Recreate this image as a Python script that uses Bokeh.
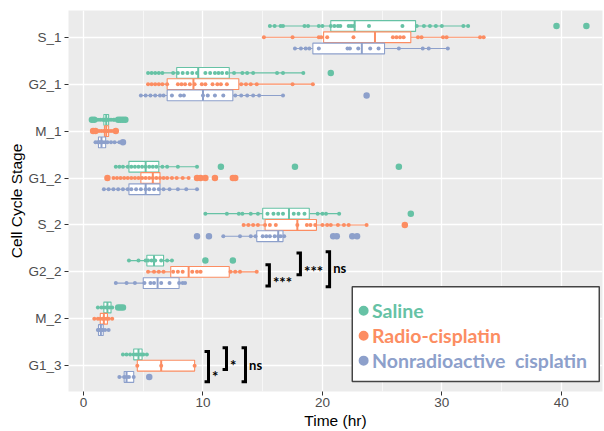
import numpy as np
from bokeh.plotting import figure
from bokeh.models import ColumnDataSource, FixedTicker, SingleIntervalTicker, Range1d
from bokeh.embed import file_html
from bokeh.resources import INLINE
from bokeh.core.properties import value

# ---------------- data ----------------
categories = ["S_1", "G2_1", "M_1", "G1_2", "S_2", "G2_2", "M_2", "G1_3"]
groups = ["Saline", "Radio-cisplatin", "Nonradioactive cisplatin"]
colors = ["#66C2A5", "#FC8D62", "#8DA0CB"]
x_ticks = [0, 10, 20, 30, 40]

# box statistics (whisker low, Q1, median, Q3, whisker high), in category order
saline_lo  = [15.6, 5.4, 1.2, 2.7, 10.2, 3.8, 1.2, 3.3]
saline_q1  = [20.7, 7.8, 1.7, 3.8, 15.0, 5.3, 1.7, 4.2]
saline_med = [22.7, 9.6, 1.9, 5.2, 17.2, 5.9, 2.0, 4.6]
saline_q3  = [27.8, 12.2, 2.1, 6.3, 18.9, 6.7, 2.3, 4.9]
saline_hi  = [32.2, 18.4, 2.6, 9.5, 21.4, 7.4, 2.4, 5.3]

radio_lo  = [15.1, 5.4, 1.3, 2.5, 13.4, 5.4, 0.9, 4.5]
radio_q1  = [20.1, 7.0, 1.75, 4.8, 15.2, 7.3, 1.4, 4.5]
radio_med = [24.4, 9.2, 1.9, 5.8, 17.9, 8.8, 1.7, 6.5]
radio_q3  = [27.4, 13.0, 2.1, 6.4, 19.5, 12.2, 2.0, 9.3]
radio_hi  = [33.5, 19.2, 2.5, 8.8, 23.7, 14.5, 2.4, 9.3]

nonrad_lo  = [17.7, 4.8, 1.0, 1.7, 11.7, 2.7, 1.2, 3.0]
nonrad_q1  = [19.2, 7.0, 1.25, 3.8, 14.5, 5.0, 1.25, 3.4]
nonrad_med = [23.3, 10.0, 1.5, 5.2, 16.3, 6.2, 1.45, 3.6]
nonrad_q3  = [25.2, 12.5, 1.85, 6.4, 16.7, 8.0, 1.65, 4.2]
nonrad_hi  = [30.5, 16.8, 3.0, 9.5, 16.8, 8.5, 2.1, 4.2]

# individual observations (hr), one list per category
saline_points = [
    [15.6, 16.0, 16.5, 16.7, 18.5, 18.8, 19.7, 20.0, 20.7, 21.0, 21.3, 21.5, 22.2, 22.4, 22.6, 23.9, 26.7, 27.9, 28.5, 29.0, 29.5, 30.0, 31.8, 32.2],
    [5.4, 5.7, 6.0, 6.3, 6.6, 7.5, 7.9, 8.3, 8.7, 9.1, 9.5, 10.2, 10.6, 11.0, 11.3, 11.6, 12.0, 12.6, 13.3, 13.7, 14.2, 16.2, 16.7, 18.4],
    [1.2, 1.4, 1.6, 1.7, 1.8, 1.9, 2.0, 2.1, 2.3, 2.5, 2.6],
    [2.7, 3.0, 3.3, 3.7, 4.0, 4.3, 4.6, 4.9, 5.2, 5.5, 5.8, 6.1, 6.6, 7.0, 7.9, 9.5],
    [10.2, 12.0, 13.0, 13.3, 14.0, 14.6, 15.4, 15.9, 16.3, 16.7, 17.6, 18.0, 18.5, 19.6, 20.0, 20.3, 21.4],
    [3.8, 4.6, 5.2, 5.4, 5.7, 6.0, 6.5, 7.0, 7.4],
    [1.2, 1.5, 1.7, 1.9, 2.0, 2.2, 2.4],
    [3.3, 3.6, 3.9, 4.2, 4.4, 4.6, 4.8, 5.0, 5.3],
]
saline_outliers = [[39.6, 42.1], [20.7], [0.7, 0.9, 2.9, 3.1, 3.3, 3.5], [11.5, 17.7, 26.4],
                   [27.4], [10.2, 12.5], [2.9, 3.1, 3.3], []]

radio_points = [
    [15.1, 17.5, 19.7, 19.9, 20.4, 22.6, 25.9, 26.2, 26.5, 26.8, 28.0, 28.3, 30.1, 30.4, 33.2, 33.5],
    [5.4, 5.7, 6.0, 6.3, 6.6, 7.0, 7.9, 8.2, 8.5, 8.9, 9.3, 9.9, 10.2, 10.8, 11.2, 11.5, 12.0, 13.2, 13.6, 14.0, 14.5, 17.5, 19.2],
    [1.3, 1.5, 1.7, 1.8, 1.9, 2.0, 2.1, 2.3, 2.5],
    [2.5, 2.8, 3.1, 3.4, 3.7, 4.0, 4.3, 4.6, 4.9, 5.2, 5.5, 5.8, 6.1, 6.4, 6.7, 7.0, 7.4, 7.8, 8.3, 8.8],
    [13.4, 13.8, 14.2, 14.6, 15.2, 15.6, 16.1, 17.9, 18.7, 19.0, 19.4, 20.0, 20.4, 20.7, 21.3, 21.8, 22.2, 23.7],
    [5.4, 5.9, 6.3, 6.7, 7.5, 7.9, 8.3, 9.1, 9.5, 9.8, 12.3, 12.7, 13.1, 14.5],
    [0.9, 1.2, 1.4, 1.6, 1.7, 1.9, 2.1, 2.4],
    [4.5, 6.5, 9.3],
]
radio_outliers = [[], [], [0.8, 1.0, 2.7], [2.0, 9.5, 9.8, 10.2, 11.0, 12.5, 12.7],
                  [26.9], [], [], []]

nonrad_points = [
    [17.7, 18.2, 18.6, 18.9, 19.7, 22.1, 22.3, 23.0, 24.0, 24.7, 26.4, 28.4, 28.9, 30.5],
    [4.8, 5.2, 5.6, 6.0, 6.4, 6.7, 7.4, 8.1, 8.4, 10.0, 10.4, 11.0, 11.7, 12.7, 13.2, 13.7, 14.2, 14.7, 16.7],
    [1.0, 1.2, 1.3, 1.4, 1.5, 1.6, 1.8, 2.0, 2.3, 2.6, 3.0],
    [1.7, 2.1, 2.5, 2.9, 3.3, 3.7, 4.0, 4.4, 4.8, 5.2, 5.5, 5.9, 6.3, 6.7, 7.2, 7.9, 8.6, 9.5],
    [11.7, 13.1, 14.0, 14.4, 15.0, 15.3, 15.6, 16.0, 16.3, 16.5, 16.8],
    [2.7, 3.6, 4.3, 5.1, 5.6, 5.9, 6.5, 7.2, 8.0, 8.3, 8.5],
    [1.2, 1.3, 1.4, 1.5, 1.6, 1.8, 2.1],
    [3.0, 3.4, 3.6, 3.8, 4.2],
]
nonrad_outliers = [[], [23.7], [3.3], [], [9.5, 10.5, 20.9, 21.2, 22.5, 22.9], [], [], [5.5]]

# significance annotations: (stage, bracket x in hr, label)
sig_stage = ["G2_2", "G2_2", "G2_2", "G1_3", "G1_3", "G1_3"]
sig_x = [15.56, 18.16, 20.6, 10.46, 11.97, 13.56]
sig_label = ["***", "***", "ns", "*", "*", "ns"]
legend_labels = ["Saline", "Radio-cisplatin", "Nonradioactive\u00a0 cisplatin"]

# ---------------- layout constants ----------------
n = len(categories)
cat_y = {c: n - i for i, c in enumerate(categories)}
offsets = [0.24, 0.0, -0.24]
box_h = 0.23
# bracket spans relative to the stage centre
sig_dy0 = [-0.30, -0.06, -0.32, -0.34, -0.08, -0.34]
sig_dy1 = [0.15, 0.40, 0.43, 0.30, 0.385, 0.385]
sig_ty = [-0.22, 0.02, 0.085, -0.22, 0.02, 0.02]
sig_size = ["15px", "15px", "13px", "15px", "15px", "13px"]

stats = [
    (saline_lo, saline_q1, saline_med, saline_q3, saline_hi, saline_points, saline_outliers),
    (radio_lo, radio_q1, radio_med, radio_q3, radio_hi, radio_points, radio_outliers),
    (nonrad_lo, nonrad_q1, nonrad_med, nonrad_q3, nonrad_hi, nonrad_points, nonrad_outliers),
]

p = figure(width=604, height=431, output_backend="svg", toolbar_location=None,
           x_range=Range1d(-1.26, 43.45), y_range=Range1d(0.45, 8.57),
           min_border_left=68, min_border_right=2, min_border_top=10, min_border_bottom=39)
p.background_fill_color = "#EBEBEB"
p.border_fill_color = "white"
p.outline_line_color = None

for gi, (lo, q1, med, q3, hi, pts, outs) in enumerate(stats):
    col = colors[gi]
    ys = [cat_y[c] + offsets[gi] for c in categories]
    src = ColumnDataSource(dict(y=ys, lo=lo, q1=q1, med=med, q3=q3, hi=hi,
                                ylo=[y - box_h / 2 for y in ys], yhi=[y + box_h / 2 for y in ys]))
    p.segment(x0="lo", y0="y", x1="q1", y1="y", source=src, line_color=col, line_width=1.1)
    p.segment(x0="q3", y0="y", x1="hi", y1="y", source=src, line_color=col, line_width=1.1)
    p.hbar(y="y", left="q1", right="q3", height=box_h, source=src,
           fill_color="white", line_color=col, line_width=1.1)
    p.segment(x0="med", y0="ylo", x1="med", y1="yhi", source=src, line_color=col, line_width=2)
    ox, oy = [], []
    for ci, c in enumerate(categories):
        ox += outs[ci]
        oy += [ys[ci]] * len(outs[ci])
    p.scatter(x=ox, y=oy, size=6.5, marker="circle", fill_color=col, line_color=None)
    px, py = [], []
    for ci, c in enumerate(categories):
        px += pts[ci]
        py += [ys[ci]] * len(pts[ci])
    p.scatter(x=px, y=py, size=4, marker="circle", fill_color=col, line_color=None)

# significance brackets
tick_len = 0.33
bx, by = [], []
for i, st in enumerate(sig_stage):
    yc = cat_y[st]
    x = sig_x[i]
    y0 = yc + sig_dy0[i]
    y1 = yc + sig_dy1[i]
    bx.append([x - tick_len, x, x, x - tick_len])
    by.append([y0, y0, y1, y1])
p.multi_line(xs=bx, ys=by, line_color="black", line_width=3, line_join="miter")
sig_src = ColumnDataSource(dict(x=[x + 0.3 for x in sig_x],
                                y=[cat_y[s] + d for s, d in zip(sig_stage, sig_ty)],
                                t=sig_label, fs=sig_size))
p.text(x="x", y="y", text="t", text_font_size="fs", source=sig_src,
       text_font=value("Lato"), text_font_style="bold",
       text_baseline="middle", text_align="left", text_color="black")

# legend box (manual, colored labels)
p.quad(left=[22.5], right=[43.18], bottom=[0.662], top=[2.681],
       fill_color="white", line_color="#444444", line_width=1.5)
leg_y = [2.171, 1.640, 1.108]
p.scatter(x=[23.45] * 3, y=leg_y, size=10, marker="circle", fill_color=colors, line_color=None)
p.text(x=[24.15] * 3, y=leg_y, text=legend_labels,
       text_color=colors, text_font=value("Lato"), text_font_style="bold",
       text_font_size="19.5px", text_baseline="middle", text_align="left")

# axes
p.xaxis.ticker = SingleIntervalTicker(interval=10, num_minor_ticks=2)
p.yaxis.ticker = FixedTicker(ticks=[cat_y[c] for c in categories])
p.yaxis.major_label_overrides = {cat_y[c]: c for c in categories}
p.ygrid.ticker = FixedTicker(ticks=[cat_y[c] for c in categories])
for ax in (p.xaxis, p.yaxis):
    ax.axis_line_color = None
    ax.major_tick_line_color = "#333333"
    ax.major_tick_out = 4
    ax.major_tick_in = 0
    ax.minor_tick_out = 0
    ax.minor_tick_in = 0
    ax.major_label_text_font = "Liberation Sans"
    ax.major_label_text_font_size = "13.5px"
    ax.major_label_text_color = "#4D4D4D"
    ax.axis_label_text_font = "Liberation Sans"
    ax.axis_label_text_font_size = "15.5px"
    ax.axis_label_text_font_style = "normal"
    ax.axis_label_text_color = "black"
p.xaxis.axis_label = "Time (hr)"
p.yaxis.axis_label = "Cell Cycle Stage"
p.xaxis.major_label_standoff = 2
p.xaxis.axis_label_standoff = 2
p.yaxis.major_label_standoff = 3
p.yaxis.axis_label_standoff = 0

p.xgrid.grid_line_color = "white"
p.xgrid.grid_line_width = 1.3
p.xgrid.minor_grid_line_color = "white"
p.xgrid.minor_grid_line_width = 0.6
p.ygrid.grid_line_color = "white"
p.ygrid.grid_line_width = 1.3

open("out.html", "w").write(file_html(p, INLINE))
